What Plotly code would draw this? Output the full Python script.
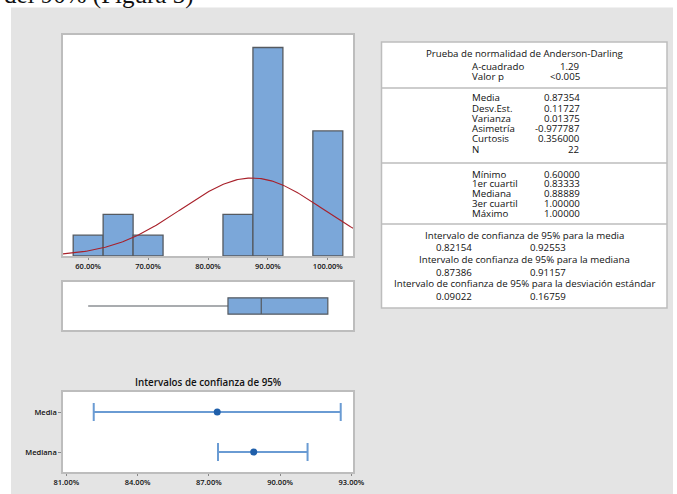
import numpy as np
import plotly.graph_objects as go

# Histograma (centros de clase, frecuencias)
bin_centers = [0.60, 0.65, 0.70, 0.85, 0.90, 1.00]
counts = [1, 2, 1, 2, 10, 6]
bin_width = 0.05

# Estadisticos
media = 0.87354
desv_est = 0.11727
n = 22
minimo, q1, mediana, q3, maximo = 0.60, 0.83333, 0.88889, 1.00000, 1.00000

# Tabla de resumen
ad_title = 'Prueba de normalidad de Anderson-Darling'
ad_labels = ['A-cuadrado', 'Valor p']
ad_values = ['1.29', '<0.005']
mom_labels = ['Media', 'Desv.Est.', 'Varianza', 'Asimetría', 'Curtosis', 'N']
mom_values = ['0.87354', '0.11727', '0.01375', '-0.977787', '0.356000', '22']
quart_labels = ['Mínimo', '1er cuartil', 'Mediana', '3er cuartil', 'Máximo']
quart_values = ['0.60000', '0.83333', '0.88889', '1.00000', '1.00000']
ci_titles = ['Intervalo de confianza de 95% para la media',
             'Intervalo de confianza de 95% para la mediana',
             'Intervalo de confianza de 95% para la desviación estándar']
ci_low_txt = ['0.82154', '0.87386', '0.09022']
ci_high_txt = ['0.92553', '0.91157', '0.16759']

# Intervalos de confianza
ci_names = ['Media', 'Mediana']
ci_center = [0.87354, 0.88889]
ci_lower = [0.82154, 0.87386]
ci_upper = [0.92553, 0.91157]

W, H = 677, 494
FONT = 'Open Sans'
TXT = '#111111'
FRAME = '#BDBDBD'


def px(x):
    return x / W


def py(y):
    return 1 - y / H


fig = go.Figure()

# histograma
fig.add_trace(go.Bar(x=bin_centers, y=counts, width=bin_width,
                     marker=dict(color='#7BA7D9', line=dict(color='#555a60', width=1.3)),
                     xaxis='x', yaxis='y', hoverinfo='skip'))

# curva normal ajustada con media y desv. est. del resumen
xs = np.linspace(0.558, 1.042, 200)
ys = n * bin_width * np.exp(-0.5 * ((xs - media) / desv_est) ** 2) / (desv_est * np.sqrt(2 * np.pi))
fig.add_trace(go.Scatter(x=xs, y=ys, mode='lines', line=dict(color='#A8202A', width=1.1),
                         xaxis='x', yaxis='y', hoverinfo='skip'))

# diagrama de caja
fig.add_trace(go.Box(y=[0], q1=[q1], median=[mediana], q3=[q3],
                     lowerfence=[minimo], upperfence=[maximo], orientation='h',
                     width=0.34, whiskerwidth=0, fillcolor='#7BA7D9',
                     line=dict(color='#555a60', width=1.2),
                     xaxis='x2', yaxis='y2', boxpoints=False, hoverinfo='skip'))

# intervalos de confianza
fig.add_trace(go.Scatter(
    x=ci_center, y=ci_names, mode='markers',
    marker=dict(color='#1F5FAA', size=7),
    error_x=dict(type='data', symmetric=False,
                 array=[u - c for u, c in zip(ci_upper, ci_center)],
                 arrayminus=[c - l for c, l in zip(ci_center, ci_lower)],
                 color='#6A9BD3', thickness=2, width=9),
    xaxis='x3', yaxis='y3', hoverinfo='skip'))

tickfont = dict(family=FONT, size=7.5, color=TXT, weight=600)
frame = dict(showline=True, mirror=True, linecolor=FRAME, linewidth=1.5,
             showgrid=False, zeroline=False, automargin=False)

fig.update_layout(
    width=W, height=H,
    autosize=False,
    margin=dict(l=0, r=0, t=0, b=0, pad=0),
    paper_bgcolor='white',
    plot_bgcolor='white',
    showlegend=False,
    xaxis=dict(domain=[px(63), px(353)], range=[0.558, 1.042],
               tickvals=[0.6, 0.7, 0.8, 0.9, 1.0], tickformat='.2%',
               ticks='outside', ticklen=2, tickcolor='#888', tickfont=tickfont,
               anchor='y', **frame),
    yaxis=dict(domain=[py(256), py(35)], range=[0, 10.6], showticklabels=False,
               anchor='x', **frame),
    xaxis2=dict(domain=[px(63), px(353)], range=[0.558, 1.042], showticklabels=False,
                anchor='y2', **frame),
    yaxis2=dict(domain=[py(330), py(282)], range=[-0.5, 0.5], showticklabels=False,
                anchor='x2', **frame),
    xaxis3=dict(domain=[px(63), px(353)], range=[0.8086, 0.9307],
                tickvals=[0.81, 0.84, 0.87, 0.90, 0.93], tickformat='.2%',
                ticks='outside', ticklen=2, tickcolor='#888', tickfont=tickfont,
                anchor='y3', **frame),
    yaxis3=dict(domain=[py(472), py(392)], type='category',
                categoryorder='array', categoryarray=['Mediana', 'Media'],
                range=[-0.5, 1.5], ticks='outside', ticklen=3, tickcolor='#888',
                tickfont=tickfont, anchor='x3', **frame),
)

# fondo gris
fig.add_shape(type='rect', xref='paper', yref='paper', x0=px(11), x1=px(673), y0=0, y1=py(7.5),
              fillcolor='#E4E4E4', line=dict(width=0), layer='below')
# marcos blancos de los graficos
for x0, x1, y0, y1 in [(63, 353, 35, 256), (63, 353, 282, 330), (63, 353, 392, 472)]:
    fig.add_shape(type='rect', xref='paper', yref='paper', x0=px(x0), x1=px(x1),
                  y0=py(y1), y1=py(y0), fillcolor='white', line=dict(width=0), layer='below')

# tabla
fig.add_shape(type='rect', xref='paper', yref='paper', x0=px(381.5), x1=px(667),
              y0=py(308), y1=py(42), fillcolor='white', line=dict(color=FRAME, width=1.5),
              layer='below')
for ysep in [88, 163, 224]:
    fig.add_shape(type='line', xref='paper', yref='paper', x0=px(381.5), x1=px(667),
                  y0=py(ysep), y1=py(ysep), line=dict(color=FRAME, width=1.5))

tfont = dict(family=FONT, size=9.7, color=TXT)


def note(text, x, y, anchor='center', font=tfont):
    fig.add_annotation(text=text, x=px(x), y=py(y), xref='paper', yref='paper',
                       xanchor=anchor, yanchor='middle', showarrow=False, font=font,
                       borderpad=0)


xc = 524.5
lab_x, val_x = 470.5, 581
note(ad_title, xc, 53.5)
for lab, val, yy in zip(ad_labels, ad_values, [66.5, 77]):
    note(lab, lab_x, yy, 'left')
    note(val, val_x, yy, 'right')
for i, (lab, val) in enumerate(zip(mom_labels, mom_values)):
    yy = 98 + i * 10.2
    note(lab, lab_x, yy, 'left')
    note(val, val_x, yy, 'right')
for i, (lab, val) in enumerate(zip(quart_labels, quart_values)):
    yy = 174 + i * 9.8
    note(lab, lab_x, yy, 'left')
    note(val, val_x, yy, 'right')
for i, (tit, lo, hi) in enumerate(zip(ci_titles, ci_low_txt, ci_high_txt)):
    yy = 235.5 + i * 24.2
    note(tit, xc, yy)
    note(lo, 453.5, yy + 12.5)
    note(hi, 547.5, yy + 12.5)

# titulo de intervalos
note('Intervalos de confianza de 95%', 208, 382.5,
     font=dict(family=FONT, size=9.8, color=TXT, weight=600))

# texto del documento cortado arriba
fig.add_annotation(text='del 90% (Figura 3)', x=px(2), y=py(-5), xref='paper', yref='paper',
                   xanchor='left', yanchor='middle', showarrow=False,
                   font=dict(family='Liberation Serif', size=25, color='#111'))

fig.write_html('out.html', config={'displayModeBar': False},
               post_script="document.body.style.margin='0';"
                           "document.documentElement.style.overflow='hidden';")
